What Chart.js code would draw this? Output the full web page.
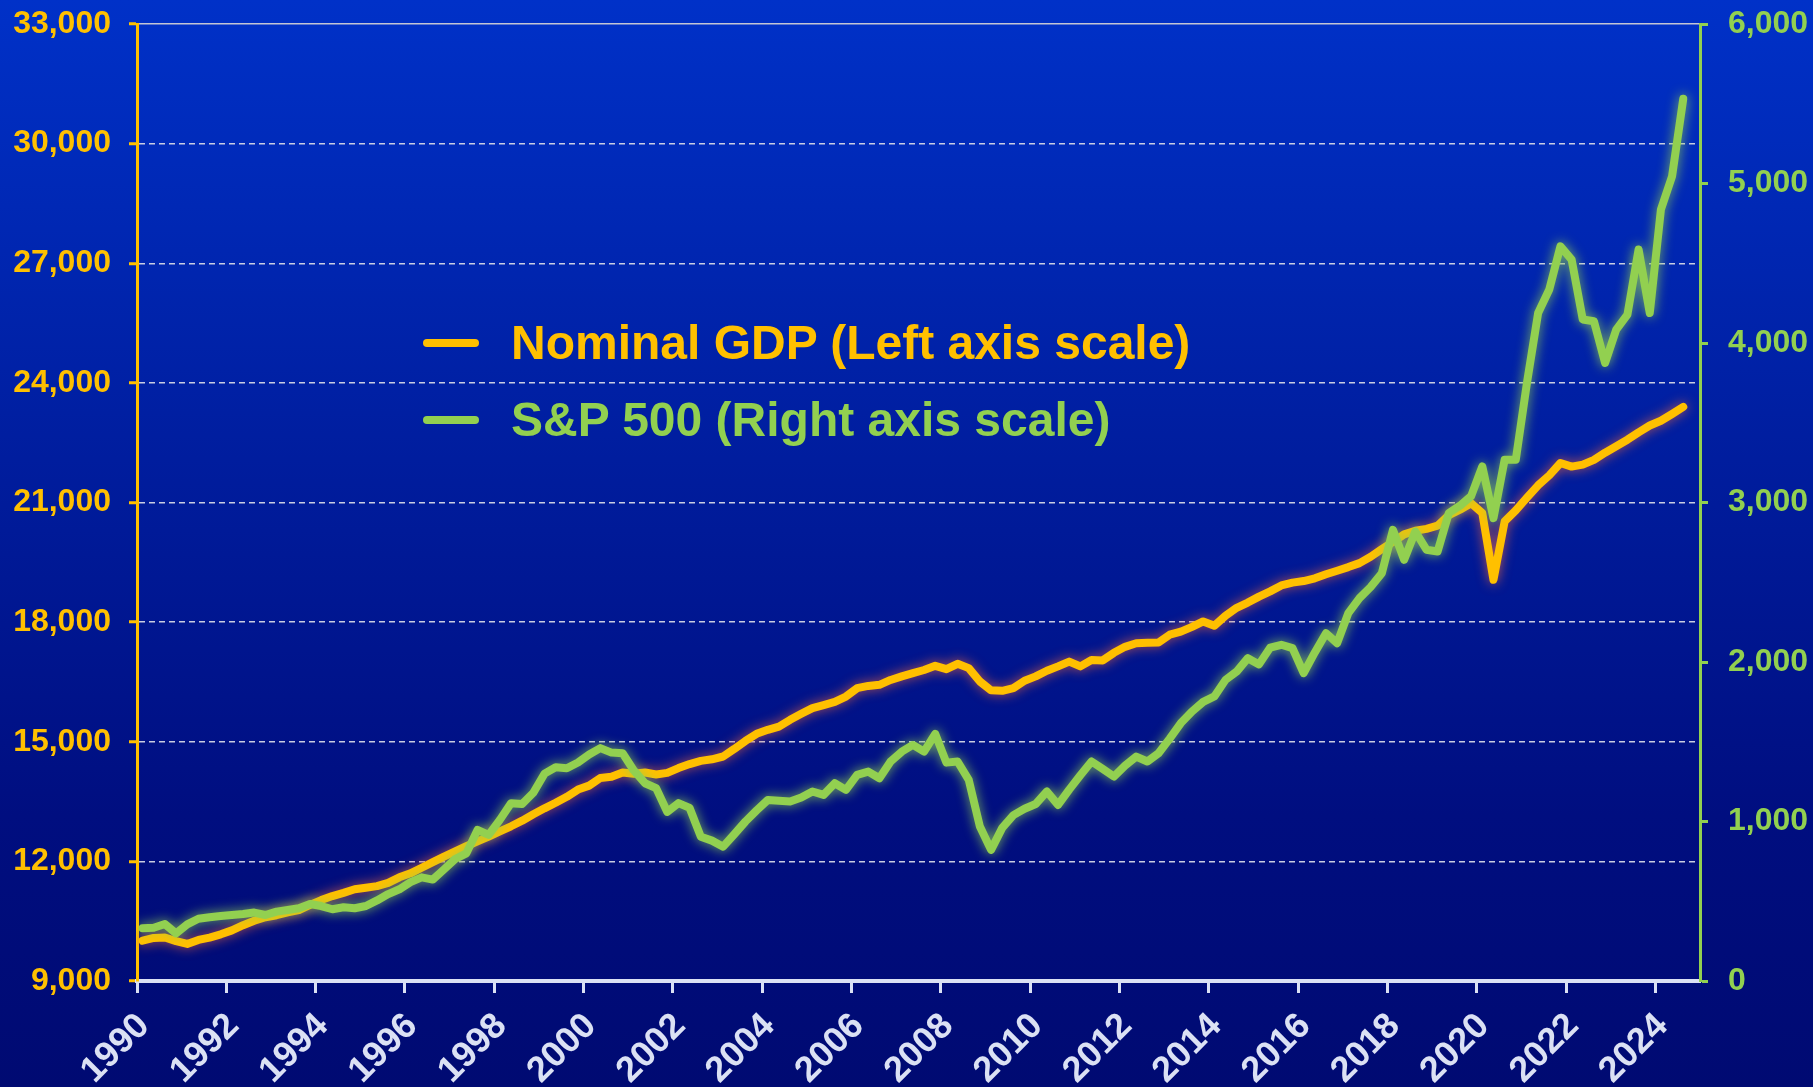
<!DOCTYPE html>
<html>
<head>
<meta charset="utf-8">
<title>Nominal GDP vs S&amp;P 500</title>
<script src="https://cdn.jsdelivr.net/npm/chart.js@4.4.1/dist/chart.umd.min.js"></script>
<style>
    html, body { margin: 0; padding: 0; }
    body {
        width: 1813px;
        height: 1087px;
        overflow: hidden;
        background: linear-gradient(to bottom, #0031c8 0%, #001ea0 40%, #000e80 75%, #000a72 100%);
        font-family: "Liberation Sans", Arial, sans-serif;
    }
    #wrap { position: relative; width: 1813px; height: 1087px; }
    #legend { position: absolute; left: 423px; top: 304px; }
    .item { display: flex; align-items: center; height: 77px; font-weight: bold; font-size: 48px; white-space: nowrap; }
    .swatch { width: 56px; height: 8px; border-radius: 4px; margin-right: 32px; }
</style>
</head>
<body>
<div id="wrap">
    <canvas id="chart"></canvas>
    <div id="legend"></div>
</div>
<script>
// quarterly series, 1990 Q1 .. 2024 Q3
const startYear = 1990;

const gdp = [
    10010, 10080, 10090, 10000,
    9930, 10030, 10090, 10170,
    10270, 10400, 10510, 10600,
    10650, 10720, 10780, 10910,
    11030, 11130, 11210, 11300,
    11340, 11380, 11460, 11600,
    11700, 11840, 11980, 12120,
    12250, 12380, 12500, 12620,
    12750, 12880, 13020, 13180,
    13330, 13470, 13620, 13800,
    13900, 14090, 14120, 14230,
    14200, 14230, 14180, 14220,
    14340, 14440, 14520, 14560,
    14630, 14820, 15020, 15200,
    15300, 15380, 15550, 15700,
    15844, 15920, 16000, 16134,
    16343, 16400, 16427, 16550,
    16640, 16720, 16800, 16904,
    16821, 16954, 16846, 16511,
    16290, 16277, 16343, 16530,
    16640, 16780, 16890, 17010,
    16890, 17050, 17040, 17230,
    17380, 17470, 17480, 17490,
    17684, 17760, 17880, 18018,
    17910, 18161, 18360, 18490,
    18640, 18772, 18920, 18990,
    19030, 19100, 19200, 19290,
    19380, 19480, 19640, 19830,
    20010, 20200, 20290, 20340,
    20420, 20680, 20820, 20980,
    20735, 19062, 20525, 20800,
    21120, 21430, 21680, 21990,
    21900, 21950, 22070, 22250,
    22410, 22575, 22760, 22930,
    23050, 23220, 23396
];

const sp500 = [
    330, 334, 357, 299,
    355, 390, 400, 408,
    414, 420, 429, 414,
    435, 445, 456, 483,
    470, 450, 462, 456,
    470, 505, 545, 575,
    620, 650, 636, 700,
    765, 800, 947, 916,
    1010, 1115, 1110, 1180,
    1300, 1340, 1334, 1370,
    1420, 1460, 1432, 1428,
    1320, 1240, 1209, 1060,
    1115, 1085, 905, 880,
    842, 920, 1000, 1070,
    1135, 1130, 1125, 1150,
    1188, 1167, 1240, 1198,
    1292, 1313, 1271, 1376,
    1438, 1480, 1438, 1549,
    1369, 1376, 1261, 968,
    822, 960, 1040, 1080,
    1110, 1188, 1104, 1200,
    1290, 1376, 1330, 1282,
    1350, 1407, 1376, 1428,
    1520, 1617, 1690, 1750,
    1784, 1888, 1940, 2024,
    1985, 2090, 2108, 2087,
    1930, 2060, 2181, 2118,
    2307, 2400, 2470, 2557,
    2829, 2641, 2818, 2704,
    2693, 2934, 2980, 3040,
    3226, 2902, 3268, 3268,
    3750, 4188, 4335, 4606,
    4523, 4147, 4136, 3875,
    4084, 4178, 4586, 4188,
    4837, 5046, 5531
];

const yearTicks = [1990, 1992, 1994, 1996, 1998, 2000, 2002, 2004, 2006, 2008, 2010, 2012, 2014, 2016, 2018, 2020, 2022, 2024];
const gdpTicks = [9000, 12000, 15000, 18000, 21000, 24000, 27000, 30000, 33000];
const spTicks = [0, 1000, 2000, 3000, 4000, 5000, 6000];
const seriesNames = ["Nominal GDP (Left axis scale)", "S&P 500 (Right axis scale)"];

const GOLD = "#ffc000";
const GREEN = "#92d050";
const AXIS_WHITE = "#dbe1f4";
const FONT = "'Liberation Sans', Arial, sans-serif";

/* each quarter sits in the middle of its quarter on the year axis */
function toPoints(values) {
    return values.map((v, i) => ({ x: startYear + i / 4 + 0.125, y: v }));
}

/* soft halo around each line */
const glowPlugin = {
    id: "glow",
    beforeDatasetDraw(chart, args) {
        const ds = chart.data.datasets[args.index];
        chart.ctx.save();
        chart.ctx.shadowColor = ds.glowColor;
        chart.ctx.shadowBlur = 12;
    },
    afterDatasetDraw(chart) {
        chart.ctx.restore();
    },
};

/* keep the plot area where the original has it */
function noEdgePadding(scale) {
    scale.paddingTop = 0;
    scale.paddingBottom = 0;
    scale.paddingLeft = 0;
    scale.paddingRight = 0;
}

function buildLegend() {
    const legend = document.getElementById("legend");
    [GOLD, GREEN].forEach((color, i) => {
        const row = document.createElement("div");
        row.className = "item";
        row.style.color = color;
        const sw = document.createElement("span");
        sw.className = "swatch";
        sw.style.background = color;
        row.appendChild(sw);
        row.appendChild(document.createTextNode(seriesNames[i]));
        legend.appendChild(row);
    });
}

function initializeChart() {
    const ctx = document.getElementById("chart").getContext("2d");

    new Chart(ctx, {
        type: "line",
        data: {
            datasets: [
                {
                    label: seriesNames[0],
                    data: toPoints(gdp),
                    yAxisID: "yLeft",
                    borderColor: GOLD,
                    borderWidth: 8,
                    glowColor: "rgba(215, 95, 70, 0.85)",
                    order: 1,
                },
                {
                    label: seriesNames[1],
                    data: toPoints(sp500),
                    yAxisID: "yRight",
                    borderColor: GREEN,
                    borderWidth: 8,
                    glowColor: "rgba(146, 208, 80, 0.85)",
                    order: 0,
                },
            ],
        },
        options: {
            responsive: true,
            maintainAspectRatio: false,
            animation: false,
            layout: { padding: { top: 24, left: 0, right: 0, bottom: 0 } },
            elements: {
                line: { tension: 0, borderJoinStyle: "round", borderCapStyle: "round", fill: false },
                point: { radius: 0, hoverRadius: 0 },
            },
            plugins: {
                legend: { display: false },
                tooltip: { enabled: false },
            },
            scales: {
                x: {
                    type: "linear",
                    min: 1990,
                    max: 2025,
                    afterBuildTicks: (scale) => { scale.ticks = yearTicks.map((v) => ({ value: v })); },
                    afterFit: (scale) => { scale.height = 106; noEdgePadding(scale); },
                    grid: {
                        drawOnChartArea: false,
                        tickLength: 12,
                        tickWidth: 3,
                        tickColor: AXIS_WHITE,
                    },
                    border: { color: AXIS_WHITE, width: 4 },
                    ticks: {
                        autoSkip: false,
                        minRotation: 45,
                        maxRotation: 45,
                        padding: 12,
                        labelOffset: 7,
                        color: AXIS_WHITE,
                        font: { family: FONT, size: 36, weight: "bold" },
                        callback: (v) => String(v),
                    },
                },
                yLeft: {
                    position: "left",
                    min: 9000,
                    max: 33000,
                    afterBuildTicks: (scale) => { scale.ticks = gdpTicks.map((v) => ({ value: v })); },
                    afterFit: (scale) => { scale.width = 137; noEdgePadding(scale); },
                    grid: {
                        color: (c) => (c.tick && c.tick.value === 33000 ? "#c4c6d4" : "#c9cde2"),
                        lineWidth: 1.5,
                        tickLength: 8,
                        tickWidth: 3,
                        tickColor: GOLD,
                    },
                    border: {
                        color: GOLD,
                        width: 3,
                        dash: (c) => (c.tick && c.tick.value === 33000 ? [] : [6, 4]),
                    },
                    ticks: {
                        padding: 18,
                        color: GOLD,
                        font: { family: FONT, size: 32, weight: "bold" },
                        callback: (v) => v.toLocaleString("en-US"),
                    },
                },
                yRight: {
                    position: "right",
                    min: 0,
                    max: 6000,
                    afterBuildTicks: (scale) => { scale.ticks = spTicks.map((v) => ({ value: v })); },
                    afterFit: (scale) => { scale.width = 113; noEdgePadding(scale); },
                    grid: {
                        drawOnChartArea: false,
                        tickLength: 8,
                        tickWidth: 3,
                        tickColor: GREEN,
                    },
                    border: { color: GREEN, width: 3 },
                    ticks: {
                        padding: 20,
                        color: GREEN,
                        font: { family: FONT, size: 32, weight: "bold" },
                        callback: (v) => v.toLocaleString("en-US"),
                    },
                },
            },
        },
        plugins: [glowPlugin],
    });
}

document.addEventListener("DOMContentLoaded", function () {
    buildLegend();
    initializeChart();
});
</script>
</body>
</html>
